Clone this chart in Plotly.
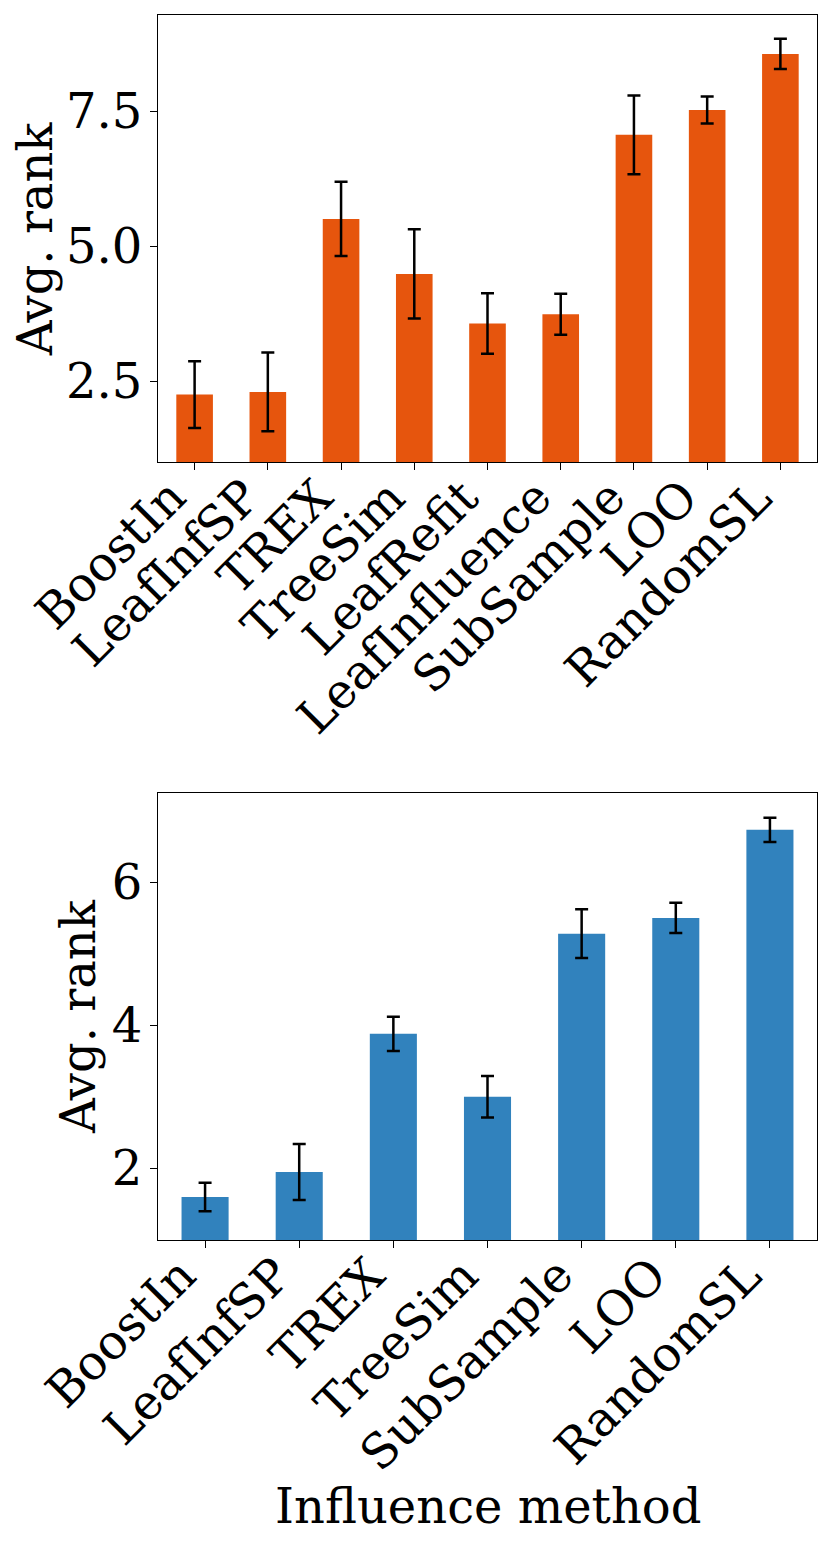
import plotly.graph_objects as go

# Top panel: all influence methods
methods_top = ["BoostIn", "LeafInfSP", "TREX", "TreeSim", "LeafRefit",
               "LeafInfluence", "SubSample", "LOO", "RandomSL"]
rank_top = [2.25, 2.30, 5.51, 4.49, 3.57, 3.74, 7.07, 7.53, 8.57]
err_top = [0.62, 0.73, 0.69, 0.83, 0.56, 0.38, 0.73, 0.25, 0.28]

# Bottom panel: subset of methods
methods_bot = ["BoostIn", "LeafInfSP", "TREX", "TreeSim", "SubSample", "LOO", "RandomSL"]
rank_bot = [1.60, 1.95, 3.88, 3.00, 5.28, 5.50, 6.73]
err_bot = [0.20, 0.39, 0.24, 0.29, 0.34, 0.21, 0.17]

FONT = "DejaVu Serif"
FS = 48
tfont = dict(family=FONT, size=FS, color="black")

fig = go.Figure()
fig.add_trace(go.Bar(
    x=list(range(len(methods_top))), y=rank_top, width=0.5,
    marker=dict(color="#e6550d", line=dict(width=0)),
    error_y=dict(type="data", array=err_top, color="black", thickness=2.5, width=6.5),
    xaxis="x", yaxis="y", showlegend=False,
))
fig.add_trace(go.Bar(
    x=list(range(len(methods_bot))), y=rank_bot, width=0.5,
    marker=dict(color="#3182bd", line=dict(width=0)),
    error_y=dict(type="data", array=err_bot, color="black", thickness=2.5, width=6.5),
    xaxis="x2", yaxis="y2", showlegend=False,
))

axis_common = dict(
    showline=True, linecolor="black", linewidth=1.3, mirror=True,
    ticks="outside", ticklen=7, tickwidth=1.3, tickcolor="black",
    showgrid=False, zeroline=False,
    tickfont=tfont,
)

top_max = max(v + e for v, e in zip(rank_top, err_top)) * 1.05
bot_max = max(v + e for v, e in zip(rank_bot, err_bot)) * 1.05

# rotated category labels, right/top aligned under each tick (like ha='right')
annotations = []
for xref, yref, names in [("x", "y domain", methods_top), ("x2", "y2 domain", methods_bot)]:
    for i, name in enumerate(names):
        annotations.append(dict(
            x=i, y=0, xref=xref, yref=yref, text=name, showarrow=False,
            textangle=-45, xanchor="right", yanchor="top", yshift=-5, xshift=3,
            font=tfont, borderpad=0,
        ))
annotations.append(dict(
    x=0.5, y=-0.2171, xref="paper", yref="paper", text="Influence method",
    showarrow=False, xanchor="center", yanchor="middle", font=tfont,
))
# y-axis titles
annotations.append(dict(
    x=-0.1871, y=0.5, xref="paper", yref="y domain", text="Avg. rank",
    showarrow=False, textangle=-90, xanchor="center", yanchor="middle", font=tfont,
))
annotations.append(dict(
    x=-0.1208, y=0.5, xref="paper", yref="y2 domain", text="Avg. rank",
    showarrow=False, textangle=-90, xanchor="center", yanchor="middle", font=tfont,
))

# the page body has an 8px margin, so the figure is shrunk by that amount
fig.update_layout(
    width=823, height=1539,
    margin=dict(l=150, r=14, t=7, b=307),
    paper_bgcolor="white", plot_bgcolor="white",
    font=tfont,
    annotations=annotations,
    xaxis=dict(axis_common, domain=[0, 1], anchor="y",
               range=[-0.5, len(methods_top) - 0.5],
               tickmode="array", tickvals=list(range(len(methods_top))),
               showticklabels=False),
    yaxis=dict(axis_common, domain=[0.6351, 1], anchor="x",
               range=[1, top_max], tick0=0, dtick=2.5, tickformat=".1f",
               ticklabelstandoff=-2),
    xaxis2=dict(axis_common, domain=[0, 1], anchor="y2",
                range=[-0.5, len(methods_bot) - 0.5],
                tickmode="array", tickvals=list(range(len(methods_bot))),
                showticklabels=False),
    yaxis2=dict(axis_common, domain=[0, 0.3649], anchor="x2",
                range=[1, bot_max], tick0=0, dtick=2,
                ticklabelstandoff=-2),
)

fig.write_html("out.html")
